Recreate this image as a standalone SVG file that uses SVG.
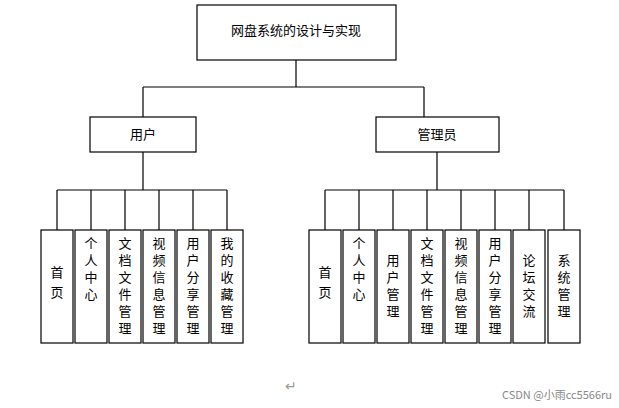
<svg xmlns="http://www.w3.org/2000/svg" width="619" height="408" viewBox="0 0 619 408">
<style>
rect{fill:#fff;stroke:#000;stroke-width:1.2}
text{font-family:"Noto Sans CJK SC","Liberation Sans",sans-serif;font-size:13px;fill:#000;text-anchor:middle}
#connectors path{fill:none;stroke:#000;stroke-width:1.2}
</style>
<rect x="0" y="0" width="619" height="408" style="stroke:none"/>
<g id="connectors">
<path d="M296,60V87M143,87H424M143,87V117M424,87V117"/>
<path d="M143,152V190M57,190H227M57,190V230M91,190V230M125,190V230M159,190V230M193,190V230M227,190V230"/>
<path d="M437,152V190M325,190H564M325,190V230M359,190V230M393,190V230M427,190V230M461,190V230M495,190V230M529,190V230M564,190V230"/>
</g>
<g id="root"><rect x="197" y="5" width="199" height="55"/><text x="296" y="35">网盘系统的设计与实现</text></g>
<g id="user"><rect x="90" y="117" width="106" height="35"/><text x="143" y="139">用户</text></g>
<g id="admin"><rect x="376" y="117" width="123" height="35"/><text x="437" y="139">管理员</text></g>
<g id="u1"><rect x="41" y="230" width="32" height="113"/><text x="57" y="277">首</text><text x="57" y="297">页</text></g>
<g id="u2"><rect x="75" y="230" width="32" height="113"/><text x="91" y="248">个</text><text x="91" y="265">人</text><text x="91" y="282">中</text><text x="91" y="299">心</text></g>
<g id="u3"><rect x="109" y="230" width="32" height="113"/><text x="125" y="248">文</text><text x="125" y="265">档</text><text x="125" y="282">文</text><text x="125" y="299">件</text><text x="125" y="316">管</text><text x="125" y="333">理</text></g>
<g id="u4"><rect x="143" y="230" width="32" height="113"/><text x="159" y="248">视</text><text x="159" y="265">频</text><text x="159" y="282">信</text><text x="159" y="299">息</text><text x="159" y="316">管</text><text x="159" y="333">理</text></g>
<g id="u5"><rect x="177" y="230" width="32" height="113"/><text x="193" y="248">用</text><text x="193" y="265">户</text><text x="193" y="282">分</text><text x="193" y="299">享</text><text x="193" y="316">管</text><text x="193" y="333">理</text></g>
<g id="u6"><rect x="211" y="230" width="32" height="113"/><text x="227" y="248">我</text><text x="227" y="265">的</text><text x="227" y="282">收</text><text x="227" y="299">藏</text><text x="227" y="316">管</text><text x="227" y="333">理</text></g>
<g id="a1"><rect x="309" y="230" width="32" height="113"/><text x="325" y="277">首</text><text x="325" y="297">页</text></g>
<g id="a2"><rect x="343" y="230" width="32" height="113"/><text x="359" y="248">个</text><text x="359" y="265">人</text><text x="359" y="282">中</text><text x="359" y="299">心</text></g>
<g id="a3"><rect x="377" y="230" width="32" height="113"/><text x="393" y="265">用</text><text x="393" y="282">户</text><text x="393" y="299">管</text><text x="393" y="316">理</text></g>
<g id="a4"><rect x="411" y="230" width="32" height="113"/><text x="427" y="248">文</text><text x="427" y="265">档</text><text x="427" y="282">文</text><text x="427" y="299">件</text><text x="427" y="316">管</text><text x="427" y="333">理</text></g>
<g id="a5"><rect x="445" y="230" width="32" height="113"/><text x="461" y="248">视</text><text x="461" y="265">频</text><text x="461" y="282">信</text><text x="461" y="299">息</text><text x="461" y="316">管</text><text x="461" y="333">理</text></g>
<g id="a6"><rect x="479" y="230" width="32" height="113"/><text x="495" y="248">用</text><text x="495" y="265">户</text><text x="495" y="282">分</text><text x="495" y="299">享</text><text x="495" y="316">管</text><text x="495" y="333">理</text></g>
<g id="a7"><rect x="513" y="230" width="32" height="113"/><text x="529" y="265">论</text><text x="529" y="282">坛</text><text x="529" y="299">交</text><text x="529" y="316">流</text></g>
<g id="a8"><rect x="548" y="230" width="32" height="113"/><text x="564" y="265">系</text><text x="564" y="282">统</text><text x="564" y="299">管</text><text x="564" y="316">理</text></g>
<text x="291" y="391" style="fill:#999;font-size:14px">↵</text>
<text x="612" y="399" style="fill:#888;font-size:11px;text-anchor:end">CSDN @小雨cc5566ru</text>
</svg>
